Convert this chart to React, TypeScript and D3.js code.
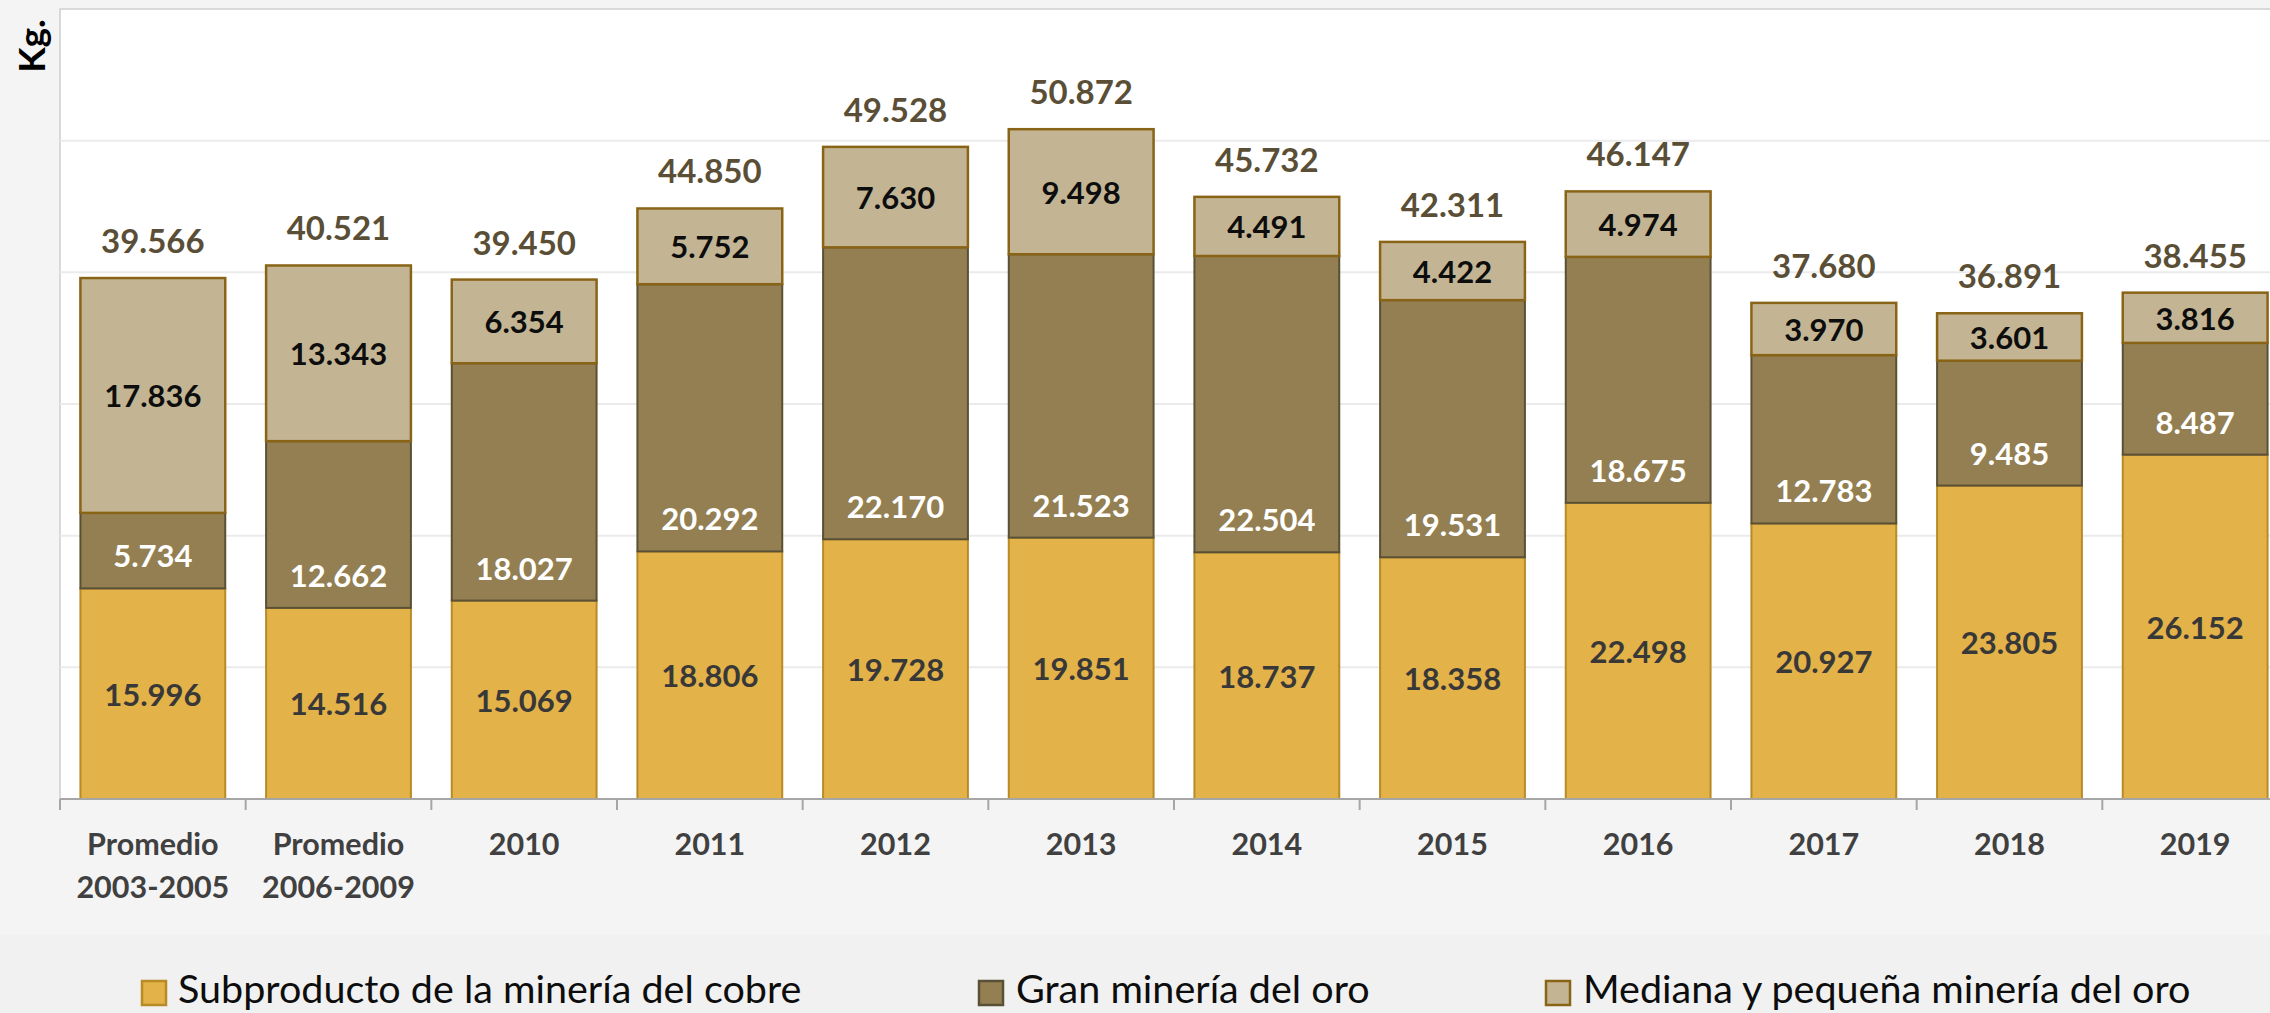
import React from "react";
import * as d3 from "d3";

const categories = [
  "Promedio\n2003-2005",
  "Promedio\n2006-2009",
  "2010",
  "2011",
  "2012",
  "2013",
  "2014",
  "2015",
  "2016",
  "2017",
  "2018",
  "2019",
];
const cobre = [15996, 14516, 15069, 18806, 19728, 19851, 18737, 18358, 22498, 20927, 23805, 26152];
const granOro = [5734, 12662, 18027, 20292, 22170, 21523, 22504, 19531, 18675, 12783, 9485, 8487];
const medianaOro = [17836, 13343, 6354, 5752, 7630, 9498, 4491, 4422, 4974, 3970, 3601, 3816];
const totals = [39566, 40521, 39450, 44850, 49528, 50872, 45732, 42311, 46147, 37680, 36891, 38455];
const yTicks = [0, 10000, 20000, 30000, 40000, 50000, 60000];
const seriesNames = [
  "Subproducto de la minería del cobre",
  "Gran minería del oro",
  "Mediana y pequeña minería del oro",
];

const W = 2270;
const H = 1013;
const FONT = "Lato, 'Open Sans', sans-serif";

const fills = ["#E3B248", "#937F52", "#C3B594"];
const strokes = ["#B88B27", "#5A5036", "#8A6416"];
const labelColors = ["#383838", "#FFFFFF", "#0D0D0D"];

const fmt = (v: number) => d3.format(",")(v).replace(/,/g, ".");

export default function App() {
  const plotLeft = 60;
  const plotRight = 2288;
  const plotTop = 9;
  const plotBottom = 799;

  const x = d3
    .scaleBand<string>()
    .domain(categories)
    .range([plotLeft, plotRight])
    .paddingInner(0.22)
    .paddingOuter(0.11);
  const y = d3.scaleLinear().domain([0, 60000]).range([plotBottom, plotTop]);

  const stackData = categories.map((c, i) => ({
    cat: c,
    s0: cobre[i],
    s1: granOro[i],
    s2: medianaOro[i],
  }));
  const stack = d3.stack<any>().keys(["s0", "s1", "s2"]);
  const series = stack(stackData);

  const step = x.step();
  const boundaries = d3.range(categories.length + 1).map((i) => plotLeft + i * step);

  const legendItems = [
    { sq: 142, tx: 178 },
    { sq: 979, tx: 1016 },
    { sq: 1546, tx: 1583 },
  ];

  return (
    <div style={{ position: "absolute", left: 0, top: 0, width: W, height: H, overflow: "hidden" }}>
      <svg width={W} height={H} style={{ display: "block" }}>
        <rect x={0} y={0} width={W} height={H} fill="#F4F4F4" />
        <rect x={0} y={935} width={W} height={H - 935} fill="#F1F1F1" />
        <rect
          x={plotLeft}
          y={plotTop}
          width={plotRight - plotLeft}
          height={plotBottom - plotTop}
          fill="#FFFFFF"
          stroke="#D9D9D9"
          strokeWidth={2}
        />
        {yTicks.slice(1, -1).map((t) => (
          <line key={t} x1={plotLeft} x2={plotRight} y1={y(t)} y2={y(t)} stroke="#EBEBEB" strokeWidth={2} />
        ))}
        {/* bars */}
        {series.map((s, si) =>
          s.map((d, i) => {
            const bx = x(categories[i])!;
            return (
              <rect
                key={`${si}-${i}`}
                x={bx}
                y={y(d[1])}
                width={x.bandwidth()}
                height={y(d[0]) - y(d[1])}
                fill={fills[si]}
                stroke={strokes[si]}
                strokeWidth={si === 2 ? 2.5 : 2}
              />
            );
          })
        )}
        {/* axis */}
        <line x1={plotLeft} x2={plotRight} y1={plotBottom} y2={plotBottom} stroke="#A6A6A6" strokeWidth={2} />
        {boundaries.map((bx, i) => (
          <line key={i} x1={bx} x2={bx} y1={plotBottom} y2={plotBottom + 11} stroke="#A6A6A6" strokeWidth={2} />
        ))}
        {/* segment labels */}
        {series.map((s, si) =>
          s.map((d, i) => {
            const cx = x(categories[i])! + x.bandwidth() / 2;
            let cy: number;
            if (si === 1) {
              cy = y(d[0]) - 33;
            } else {
              cy = (y(d[0]) + y(d[1])) / 2;
            }
            const val = [cobre, granOro, medianaOro][si][i];
            return (
              <text
                key={`l${si}-${i}`}
                x={cx}
                y={cy}
                textAnchor="middle"
                dominantBaseline="central"
                fontFamily={FONT}
                fontWeight={700}
                fontSize={31}
                fill={labelColors[si]}
              >
                {fmt(val)}
              </text>
            );
          })
        )}
        {/* totals */}
        {totals.map((t, i) => (
          <text
            key={`t${i}`}
            x={x(categories[i])! + x.bandwidth() / 2}
            y={y(t) - 38}
            textAnchor="middle"
            dominantBaseline="central"
            fontFamily={FONT}
            fontWeight={700}
            fontSize={33}
            fill="#5A4F36"
          >
            {fmt(t)}
          </text>
        ))}
        {/* x labels */}
        {categories.map((c, i) => {
          const cx = x(c)! + x.bandwidth() / 2;
          return (
            <text
              key={`x${i}`}
              x={cx}
              textAnchor="middle"
              fontFamily={FONT}
              fontWeight={700}
              fontSize={30.5}
              fill="#404040"
            >
              {c.split("\n").map((line, li) => (
                <tspan key={li} x={cx} y={855 + li * 43}>
                  {line}
                </tspan>
              ))}
            </text>
          );
        })}
        {/* y title */}
        <text
          transform="translate(45,46) rotate(-90)"
          textAnchor="middle"
          fontFamily={FONT}
          fontWeight={700}
          fontSize={37}
          fill="#000000"
        >
          Kg.
        </text>
        {/* legend */}
        {seriesNames.map((name, i) => (
          <g key={name}>
            <rect
              x={legendItems[i].sq}
              y={981}
              width={24}
              height={24}
              fill={fills[i]}
              stroke={strokes[i]}
              strokeWidth={2.5}
            />
            <text
              x={legendItems[i].tx}
              y={1003}
              fontFamily={FONT}
              fontSize={39.5}
              fill="#0D0D0D"
            >
              {name}
            </text>
          </g>
        ))}
      </svg>
    </div>
  );
}
